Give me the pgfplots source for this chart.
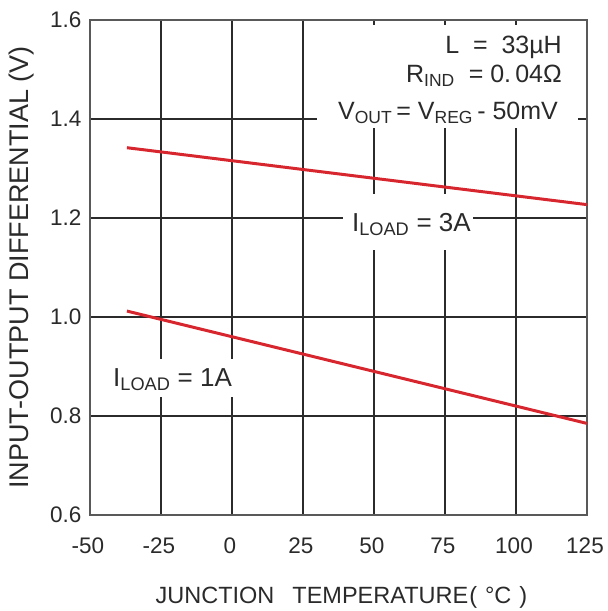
\documentclass[border=0pt]{standalone}
\usepackage{fontspec}
\setmainfont{Liberation Sans}
\usepackage{pgfplots}
\pgfplotsset{compat=1.18}
\definecolor{curvered}{HTML}{D7262E}
\definecolor{gridc}{HTML}{2B2B2B}
\definecolor{txt}{HTML}{2A2A2A}

\begin{document}
\begin{tikzpicture}
\begin{axis}[
  scale only axis, width=497pt, height=495pt,
  xmin=-50, xmax=125, ymin=0.6, ymax=1.6,
  xtick={-50,-25,0,25,50,75,100,125},
  xticklabels={-50,-25,0,25,50,75,100,125},
  ytick={0.6,0.8,1.0,1.2,1.4,1.6},
  yticklabels={0.6,0.8,1.0,1.2,1.4,1.6},
  major tick length=0pt,
  grid=major,
  grid style={draw=gridc, line width=1.8pt},
  axis line style={draw=black!65, line width=1.8pt},
  ticklabel style={font=\fontsize{22.5}{26}\selectfont, text=txt},
  xticklabel style={anchor=base, yshift=-38pt, xshift=-2pt},
  yticklabel style={anchor=east, xshift=-5pt},
  xlabel={JUNCTION\hspace{18pt}TEMPERATURE\hspace{1pt}(\hspace{8pt}°C\hspace{8pt})},
  xlabel style={at={(axis description cs:0.506,-0.178)}, anchor=base, font=\fontsize{23.5}{26}\selectfont, text=txt},
  ylabel={INPUT-OUTPUT DIFFERENTIAL (V)},
  ylabel style={at={(axis description cs:-0.137,0.5)}, anchor=center, font=\fontsize{27}{30}\selectfont, text=txt},
  clip=false,
]
\fill[white] (axis cs:30,1.59) rectangle (axis cs:121.8,1.382);
\fill[white] (axis cs:39.1,1.249) rectangle (axis cs:84.9,1.135);
\fill[white] (axis cs:-44,0.915) rectangle (axis cs:4.5,0.838);

\addplot[curvered, line width=3pt] coordinates {(-37,1.342) (125,1.227)};
\addplot[curvered, line width=3pt] coordinates {(-37,1.012) (125,0.785)};

\node[anchor=base west, inner sep=0pt, text=txt, font=\fontsize{26}{30}\selectfont] at (axis cs:42.2,1.172) {I\textsubscript{LOAD} = 3A};
\node[anchor=base west, inner sep=0pt, text=txt, font=\fontsize{26}{30}\selectfont] at (axis cs:-41.9,0.859) {I\textsubscript{LOAD} = 1A};
\node[anchor=base east, inner sep=0pt, text=txt, font=\fontsize{25}{30}\selectfont] at (axis cs:116.2,1.533) {L\ \ =\ \ 33µH};
\node[anchor=base east, inner sep=0pt, text=txt, font=\fontsize{25}{30}\selectfont] at (axis cs:116.2,1.473) {R\textsubscript{IND}\ \ =\ 0.\,04Ω};
\node[anchor=base east, inner sep=0pt, text=txt, font=\fontsize{25}{30}\selectfont] at (axis cs:114.8,1.398) {V\textsubscript{OUT}\,= V\textsubscript{REG}\,- 50mV};
\end{axis}
\pgfresetboundingbox
\useasboundingbox ([xshift=-90pt,yshift=-96pt]current axis.south west) rectangle ([xshift=21pt,yshift=20pt]current axis.north east);
\end{tikzpicture}
\end{document}
